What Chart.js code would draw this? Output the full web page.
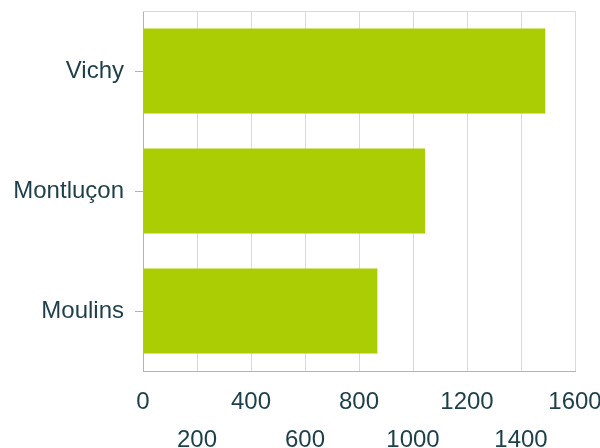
<!DOCTYPE html>
<html>
<head>
<meta charset="utf-8">
<script src="https://cdn.jsdelivr.net/npm/chart.js@4"></script>
<style>
  body { margin: 0; background: #fff; }
  #wrap { width: 600px; height: 448px; }
</style>
</head>
<body>
<div id="wrap"><canvas id="cities" width="600" height="448"></canvas></div>
<script>
const cities = ["Vichy", "Montluçon", "Moulins"];
const values = [1490, 1045, 868];
const xTicks = [0, 200, 400, 600, 800, 1000, 1200, 1400, 1600];

const textColor = "#1c3f4a";
const gridColor = "#d9d9d9";
const axisColor = "#b3b3b3";

// top edge of the plot frame
const frameTop = {
    id: "frameTop",
    afterDraw(chart) {
        const a = chart.chartArea;
        const c = chart.ctx;
        c.save();
        c.strokeStyle = gridColor;
        c.lineWidth = 1;
        c.beginPath();
        c.moveTo(a.left, a.top + 0.5);
        c.lineTo(a.right, a.top + 0.5);
        c.stroke();
        c.restore();
    }
};

new Chart(document.getElementById("cities").getContext("2d"), {
    type: "bar",
    data: {
        labels: cities,
        datasets: [{
            data: values,
            backgroundColor: "#abcd04",
            barPercentage: 0.71,
            categoryPercentage: 1
        }]
    },
    options: {
        indexAxis: "y",
        responsive: false,
        animation: false,
        layout: { padding: { top: 11, right: 25, left: 0, bottom: 0 } },
        plugins: {
            legend: { display: false },
            tooltip: { enabled: false }
        },
        scales: {
            x: {
                min: xTicks[0],
                max: xTicks[xTicks.length - 1],
                afterBuildTicks: (scale) => {
                    scale.ticks = xTicks.map(v => ({ value: v }));
                },
                afterFit: (scale) => {
                    scale.height = 77;
                    scale.paddingLeft = 0;
                    scale.paddingRight = 0;
                },
                grid: { color: gridColor, drawTicks: false },
                border: { color: axisColor },
                ticks: {
                    autoSkip: false,
                    maxRotation: 0,
                    padding: 12,
                    color: textColor,
                    font: { family: "Liberation Sans, Arial, sans-serif", size: 24, lineHeight: 1.6 },
                    // alternate labels between two rows
                    callback: function (value, index) {
                        return index % 2 === 0 ? [String(value), ""] : ["", String(value)];
                    }
                }
            },
            y: {
                afterFit: (scale) => {
                    scale.width = 143;
                    scale.paddingTop = 0;
                    scale.paddingBottom = 0;
                },
                grid: {
                    offset: false,
                    drawOnChartArea: false,
                    drawTicks: true,
                    tickLength: 8,
                    tickColor: axisColor
                },
                border: { color: axisColor },
                ticks: {
                    padding: 11,
                    color: textColor,
                    font: { family: "Liberation Sans, Arial, sans-serif", size: 24 }
                }
            }
        }
    },
    plugins: [frameTop]
});
</script>
</body>
</html>
